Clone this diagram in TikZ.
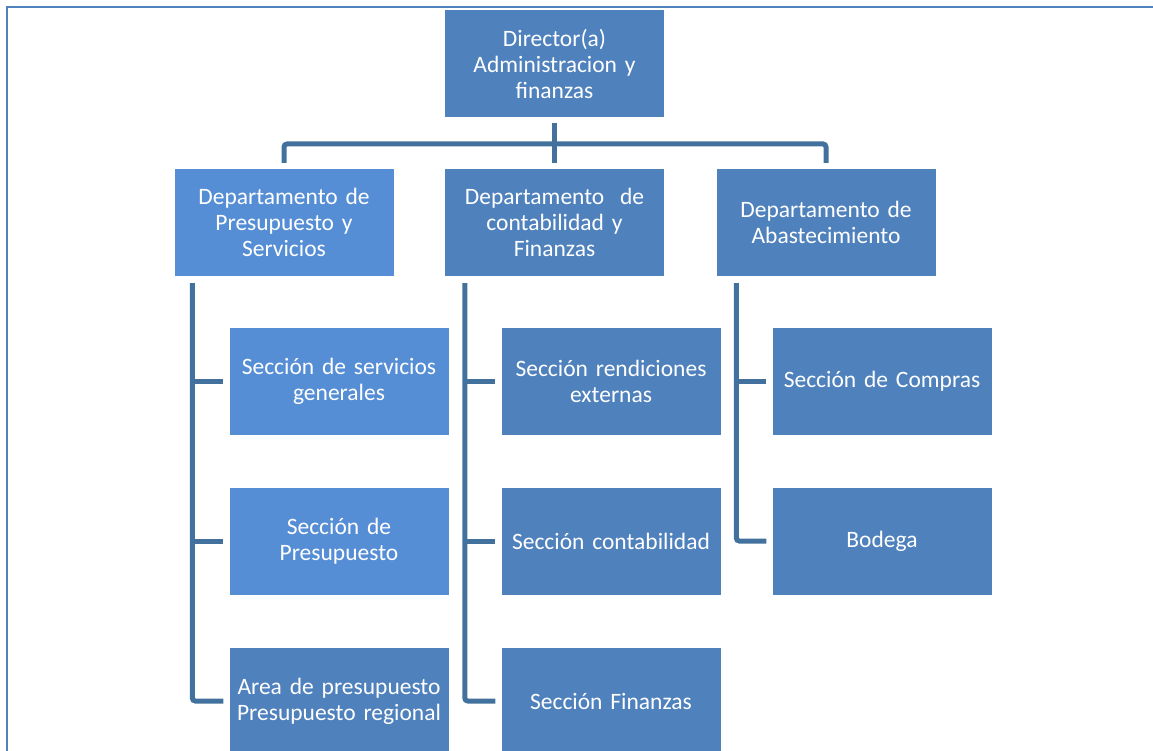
\documentclass[tikz,border=0pt]{standalone}
\usepackage{fontspec}
\setmainfont{Carlito}
\definecolor{boxdark}{HTML}{4F81BD}
\definecolor{boxlight}{HTML}{558ED5}
\definecolor{linkcol}{HTML}{41719C}
\definecolor{framecol}{HTML}{4F81BD}

\begin{document}
\begin{tikzpicture}[x = 1pt, y = -1pt,
    unit/.style = {fill = boxdark, minimum width = 219pt, minimum height = 107pt,
      inner sep = 0pt, text = white, align = center, text width = 216pt,
      font = \fontsize{23.5}{26}\selectfont},
    lightunit/.style = {unit, fill = boxlight},
    link/.style = {draw = linkcol, line width = 5pt, rounded corners = 3pt}]
      \clip (0, 0) rectangle (1153, 751);
      \draw[framecol, line width = 2pt] (7, 760) -- (7, 7) -- (1160, 7);
      \node[unit] (dir) at (554.5, 63.5) {Director(a)\\Administracion y\\finanzas};
      \node[lightunit] (dpre) at (284, 222.5) {Departamento de\\Presupuesto y\\Servicios};
      \node[unit] (dcon) at (554.5, 222.5) {Departamento~ de\\contabilidad y\\Finanzas};
      \node[unit] (dabs) at (826, 222.5) {Departamento de\\Abastecimiento};
      \node[lightunit] (sserv) at (339, 381.5) {Sección de servicios\\generales};
      \node[lightunit] (spre) at (339, 541) {Sección de\\Presupuesto};
      \node[unit] (areg) at (339, 701) {Area de presupuesto\\Presupuesto regional};
      \node[unit] (srend) at (611, 381.5) {Sección rendiciones\\externas};
      \node[unit] (scont) at (611, 541) {Sección contabilidad};
      \node[unit] (sfin) at (611, 701) {Sección Finanzas};
      \node[unit] (scomp) at (882, 381.5) {Sección de Compras};
      \node[unit] (bod) at (882, 541) {Bodega};
      \coordinate (bus) at (554.5, 144);
      \draw[link] ([yshift = 6pt]dpre.north) |- (bus) -| ([yshift = 6pt]dabs.north);
      \draw[link] ([yshift = -6pt]dir.south) -- ([yshift = 6pt]dcon.north);
      \draw[link] ([xshift = 18pt, yshift = -7pt]dpre.south west) |- ([xshift = -6pt]areg.west);
      \draw[link] ([xshift = -6pt]sserv.west) -- ++(-31, 0);
      \draw[link] ([xshift = -6pt]spre.west) -- ++(-31, 0);
      \draw[link] ([xshift = 20pt, yshift = -7pt]dcon.south west) |- ([xshift = -6pt]sfin.west);
      \draw[link] ([xshift = -6pt]srend.west) -- ++(-31, 0);
      \draw[link] ([xshift = -6pt]scont.west) -- ++(-31, 0);
      \draw[link] ([xshift = 20pt, yshift = -7pt]dabs.south west) |- ([xshift = -6pt]bod.west);
      \draw[link] ([xshift = -6pt]scomp.west) -- ++(-31, 0);
    \end{tikzpicture}
\end{document}
